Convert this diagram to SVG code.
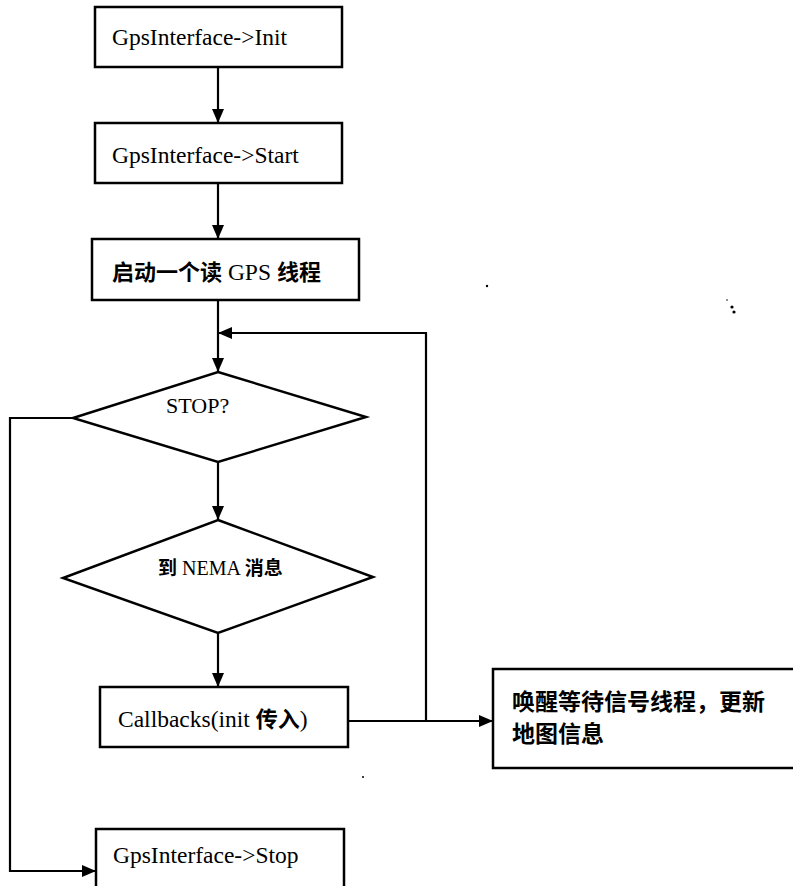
<svg xmlns="http://www.w3.org/2000/svg" width="793" height="886" viewBox="0 0 793 886">
<style>
.box{fill:#fff;stroke:#000;stroke-width:2.5}
.dia{fill:#fff;stroke:#000;stroke-width:2.5;stroke-linejoin:miter}
.ln{fill:none;stroke:#000;stroke-width:2.2}
.t{font-family:"Liberation Serif","Noto Sans CJK SC",serif;font-size:23.5px;fill:#000}
.c{font-family:"Noto Sans CJK SC",sans-serif;font-weight:700;font-size:22px}
.rt{font-family:"Noto Sans CJK SC",sans-serif;font-weight:700;font-size:23px;fill:#000}
</style>
<defs>
<marker id="ah" viewBox="0 0 14 12" refX="14" refY="6" markerWidth="14" markerHeight="12" markerUnits="userSpaceOnUse" orient="auto">
<path d="M0,0 L14,6 L0,12 Z" fill="#000"/>
</marker>
</defs>
<rect width="793" height="886" fill="#fff"/>
<g id="connectors">
<line class="ln" x1="218" y1="67" x2="218" y2="123" marker-end="url(#ah)"/>
<line class="ln" x1="218" y1="183" x2="218" y2="239" marker-end="url(#ah)"/>
<line class="ln" x1="218" y1="300" x2="218" y2="372" marker-end="url(#ah)"/>
<line class="ln" x1="218" y1="462" x2="218" y2="520" marker-end="url(#ah)"/>
<line class="ln" x1="218" y1="633" x2="218" y2="687" marker-end="url(#ah)"/>
<line class="ln" x1="348" y1="721" x2="493" y2="721" marker-end="url(#ah)"/>
<polyline class="ln" points="426,721 426,333 218,333" marker-end="url(#ah)"/>
<polyline class="ln" points="73,418 10,418 10,871 96,871" marker-end="url(#ah)"/>
</g>
<g id="n1"><rect class="box" x="95" y="7" width="247" height="60"/><text class="t" x="112" y="45">GpsInterface-&gt;Init</text></g>
<g id="n2"><rect class="box" x="95" y="123" width="247" height="60"/><text class="t" x="112" y="163">GpsInterface-&gt;Start</text></g>
<g id="n3"><rect class="box" x="92" y="239" width="267" height="61"/><text class="t" x="112" y="280"><tspan class="c">启动一个读</tspan> GPS <tspan class="c">线程</tspan></text></g>
<g id="n4"><polygon class="dia" points="218,372 366,417 218,462 73,418"/><text class="t" x="166" y="413" style="font-size:22px">STOP?</text></g>
<g id="n5"><polygon class="dia" points="218,520 373,577 218,633 63,578"/><text class="t" x="158" y="575" style="font-size:20px"><tspan class="c" style="font-size:19px">到</tspan> NEMA <tspan class="c" style="font-size:19px">消息</tspan></text></g>
<g id="n6"><rect class="box" x="100" y="687" width="248" height="60"/><text class="t" x="118" y="727">Callbacks(init <tspan class="c">传入</tspan>)</text></g>
<g id="n7"><rect class="box" x="493" y="669" width="320" height="99"/><text class="rt" x="512" y="710">唤醒等待信号线程，更新</text><text class="rt" x="512" y="742">地图信息</text></g>
<g id="n8"><rect class="box" x="96" y="829" width="248" height="80"/><text class="t" x="113" y="863">GpsInterface-&gt;Stop</text></g>
<g id="specks" fill="#000">
<circle cx="487" cy="286" r="1.2"/>
<circle cx="727" cy="300" r="0.8"/>
<circle cx="732" cy="307" r="1.6"/>
<circle cx="734" cy="312" r="1.6"/>
<circle cx="363" cy="777" r="1"/>
</g>
</svg>
